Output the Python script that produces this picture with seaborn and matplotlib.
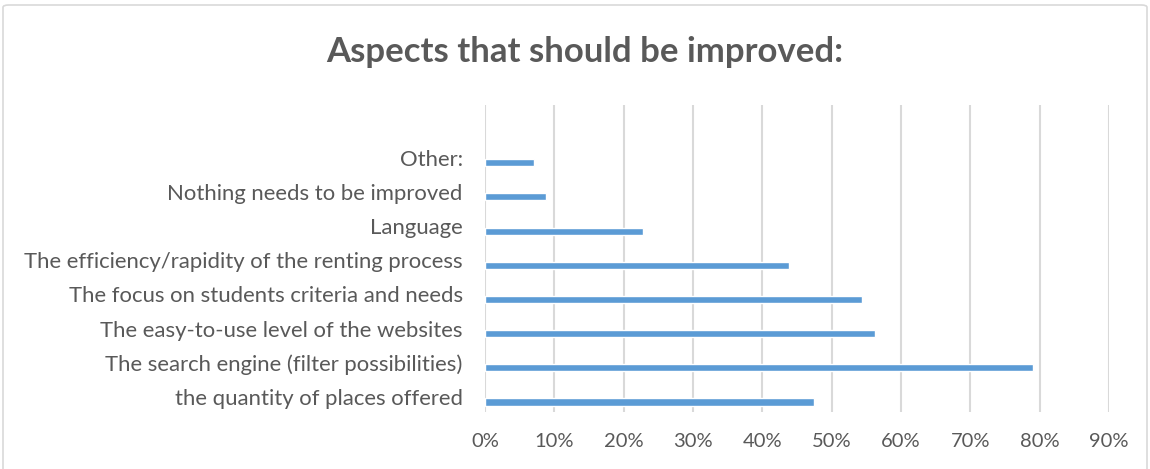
import matplotlib
matplotlib.use("Agg")
import matplotlib.pyplot as plt
import matplotlib.transforms as mtransforms
import seaborn as sns
import pandas as pd
from matplotlib.patches import FancyBboxPatch
from matplotlib.ticker import PercentFormatter

categories = [
    "Other:",
    "Nothing needs to be improved",
    "Language",
    "The efficiency/rapidity of the renting process",
    "The focus on students criteria and needs",
    "The easy-to-use level of the websites",
    "The search engine (filter possibilities)",
    "the quantity of places offered",
]
values = [0.070, 0.088, 0.228, 0.439, 0.544, 0.562, 0.790, 0.474]
x_ticks = [0.0, 0.1, 0.2, 0.3, 0.4, 0.5, 0.6, 0.7, 0.8, 0.9]
title = "Aspects that should be improved:"

df = pd.DataFrame({"category": categories, "value": values})

sns.set_theme(style="white")
plt.rcParams["font.family"] = ["Lato", "DejaVu Sans"]

W, H = 1150, 469
fig = plt.figure(figsize=(W / 100, H / 100), dpi=100)
fig.patch.set_facecolor("white")

# chart border
border = FancyBboxPatch((3 / W, -20 / H), (W - 6) / W, (H + 20 - 5) / H,
                        boxstyle="round,pad=0,rounding_size=0.005",
                        transform=fig.transFigure, fill=False,
                        edgecolor="#d9d9d9", linewidth=1.2)
fig.patches.append(border)

left, right = 485, 1109
top, bottom = 105, 411.7
ax = fig.add_axes([left / W, 1 - bottom / H, (right - left) / W, (bottom - top) / H])

sns.barplot(data=df, x="value", y="category", orient="h", color="#5b9bd5",
            width=0.205, ax=ax, saturation=1, order=categories)

ax.set_xlim(0, 0.9)
ax.set_ylim(7 + (411.7 - 402) / 34.2, -(162.7 - 105) / 34.2)
ax.set_xticks(x_ticks)
ax.xaxis.set_major_formatter(PercentFormatter(1.0, decimals=0))
ax.grid(axis="x", color="#d9d9d9", linewidth=1.5)
ax.grid(axis="y", visible=False)
ax.set_axisbelow(True)
for s in ax.spines.values():
    s.set_visible(False)
ax.set_xlabel("")
ax.set_ylabel("")
ax.tick_params(axis="x", length=0, pad=15, labelsize=14.5, labelcolor="#595959")
ax.tick_params(axis="y", length=0, pad=16, labelsize=15.9, labelcolor="#595959")

# Excel places category labels slightly above the bar centre
shift = mtransforms.ScaledTranslation(0, 5 / 100, fig.dpi_scale_trans)
for lbl in ax.get_yticklabels():
    lbl.set_transform(lbl.get_transform() + shift)

fig.text(585 / W, 1 - 52 / H, title, ha="center", va="center",
         fontsize=25, fontweight="bold", color="#595959")

fig.savefig("out.png", dpi=100, facecolor="white")
